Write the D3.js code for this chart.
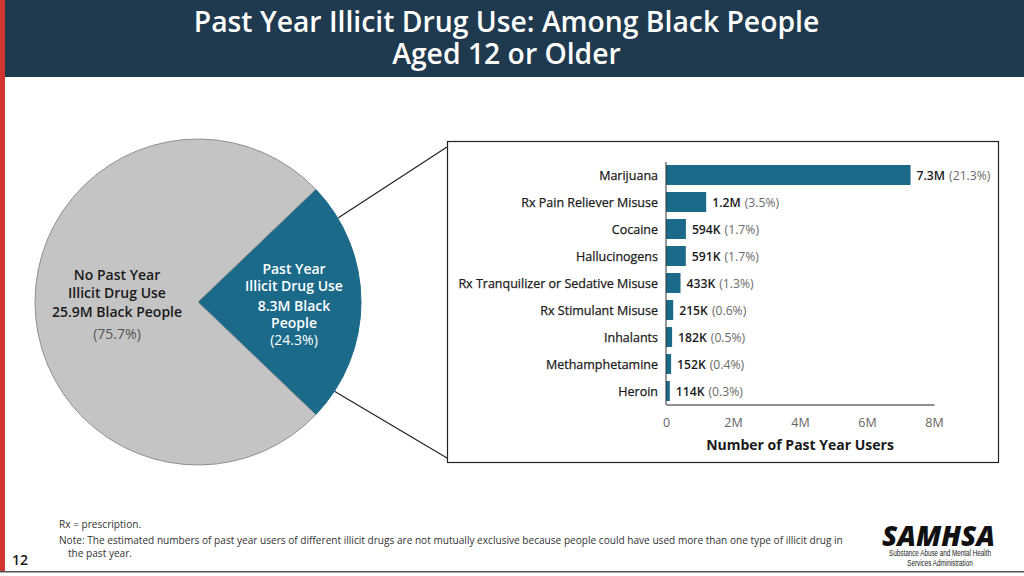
<!DOCTYPE html>
<html><head><meta charset="utf-8">
<script src="https://cdn.jsdelivr.net/npm/d3@7"></script>
<style>html,body{margin:0;padding:0;background:#fff}svg{display:block}text{font-family:"Open Sans","Noto Sans",sans-serif}</style>
</head><body><svg id="c" width="1024" height="576"></svg>
<script>
const titleLines=["Past Year Illicit Drug Use: Among Black People","Aged 12 or Older"];
const pieLabels=["Past Year Illicit Drug Use","No Past Year Illicit Drug Use"];
const pieValues=[24.3,75.7];
const drugs=["Marijuana","Rx Pain Reliever Misuse","Cocaine","Hallucinogens","Rx Tranquilizer or Sedative Misuse","Rx Stimulant Misuse","Inhalants","Methamphetamine","Heroin"];
const users=[7300000,1200000,594000,591000,433000,215000,182000,152000,114000];
const userLabels=["7.3M","1.2M","594K","591K","433K","215K","182K","152K","114K"];
const pctLabels=["(21.3%)","(3.5%)","(1.7%)","(1.7%)","(1.3%)","(0.6%)","(0.5%)","(0.4%)","(0.3%)"];
const xTicks=[0,2e6,4e6,6e6,8e6];
const xTickLabels=["0","2M","4M","6M","8M"];
const notes=["Rx = prescription.","Note: The estimated numbers of past year users of different illicit drugs are not mutually exclusive because people could have used more than one type of illicit drug in","the past year."];

const svg=d3.select("#c");
const TEAL="#1b6a89",GREY="#c4c4c4",DARK="#1a1a1a",MUTED="#595959";
svg.append("rect").attr("x",0).attr("y",0).attr("width",1024).attr("height",576).attr("fill","#fff");
svg.append("rect").attr("x",0).attr("y",0).attr("width",5).attr("height",571).attr("fill","#d03530");
svg.append("rect").attr("x",5).attr("y",0).attr("width",1019).attr("height",77).attr("fill","#1f3a4f");
svg.append("rect").attr("x",0).attr("y",571).attr("width",1024).attr("height",1.5).attr("fill","#555");
svg.selectAll(".ttl").data(titleLines).join("text").attr("x",506.5).attr("y",(d,i)=>32+i*32)
 .attr("text-anchor","middle").attr("fill","#fff").attr("font-size",28.3).attr("font-weight",600).text(d=>d);

// connector lines
const cx=198,cy=302,r=163;
[[338,218,447,147],[334,391,447,458]].forEach(p=>svg.append("line").attr("x1",p[0]).attr("y1",p[1]).attr("x2",p[2]).attr("y2",p[3]).attr("stroke","#222").attr("stroke-width",1.2));

// pie
const half=pieValues[0]/100*Math.PI; // half sweep of highlighted slice
const pie=d3.pie().sort(null).startAngle(Math.PI/2-half).endAngle(Math.PI/2-half+2*Math.PI);
const arc=d3.arc().innerRadius(0).outerRadius(r);
const g=svg.append("g").attr("transform",`translate(${cx},${cy})`);
g.selectAll("path").data(pie(pieValues)).join("path").attr("d",arc)
 .attr("fill",(d,i)=>i?GREY:TEAL).attr("stroke",(d,i)=>i?"#8f8f8f":TEAL).attr("stroke-width",1);

function block(x,lines){lines.forEach(l=>svg.append("text").attr("x",x).attr("y",l[1]).attr("text-anchor","middle")
 .attr("fill",l[2]).attr("font-size",14).attr("font-weight",l[3]).text(l[0]));}
block(117,[["No Past Year",280,DARK,600],["Illicit Drug Use",298,DARK,600],["25.9M Black People",317,DARK,600],["(75.7%)",339,"#555",400]]);
block(294,[["Past Year",274,"#fff",600],["Illicit Drug Use",291,"#fff",600],["8.3M Black",311,"#fff",600],["People",328,"#fff",600],["(24.3%)",345,"#fff",400]]);

// bar panel
svg.append("rect").attr("x",447.5).attr("y",141.5).attr("width",551).attr("height",321).attr("fill","#fff").attr("stroke","#222").attr("stroke-width",1.2);
const x=d3.scaleLinear().domain([0,8e6]).range([666,934]);
const y=d3.scaleBand().domain(drugs).range([161.5,404.5]).paddingInner(0.26).paddingOuter(0.13);
svg.selectAll(".bar").data(drugs).join("rect").attr("x",x(0)).attr("y",d=>y(d)).attr("height",y.bandwidth())
 .attr("width",(d,i)=>x(users[i])-x(0)).attr("fill",TEAL);
svg.selectAll(".cat").data(drugs).join("text").attr("x",658).attr("y",d=>y(d)+y.bandwidth()/2+4.6).attr("text-anchor","end")
 .attr("fill",DARK).attr("stroke",DARK).attr("stroke-width",0.25).attr("font-size",12.5).text(d=>d);
const vals=svg.selectAll(".val").data(drugs).join("text").attr("x",(d,i)=>x(users[i])+6).attr("y",d=>y(d)+y.bandwidth()/2+5.4)
 .attr("font-size",12.2);
vals.append("tspan").attr("fill",DARK).attr("font-weight",600).text((d,i)=>userLabels[i]);
vals.append("tspan").attr("fill","#6a6a6a").attr("dx",4).text((d,i)=>pctLabels[i]);
const axis=d3.axisBottom(x).tickValues(xTicks).tickFormat((d,i)=>xTickLabels[i]).tickSize(0).tickPadding(14);
const ag=svg.append("g").attr("transform","translate(0,404.5)").call(axis);
ag.select(".domain").attr("stroke","#222").attr("stroke-width",1);
ag.selectAll("text").attr("fill","#666").attr("font-size",12.5).style("font-family",'"Open Sans"');
svg.append("line").attr("x1",666).attr("x2",666).attr("y1",162).attr("y2",405).attr("stroke","#333").attr("stroke-width",1);
svg.append("text").attr("x",800).attr("y",450).attr("text-anchor","middle").attr("fill",DARK).attr("font-size",14).attr("font-weight",700).text("Number of Past Year Users");

// footer
svg.selectAll(".nt").data(notes).join("text").attr("x",(d,i)=>i==2?68:59).attr("y",(d,i)=>[528,544,557][i])
 .attr("fill","#333").attr("font-size",10.1).text(d=>d);
svg.append("text").attr("x",12).attr("y",565).attr("fill",DARK).attr("font-size",14).attr("font-weight",600).text("12");
svg.append("text").attr("x",882).attr("y",546).attr("fill","#111").attr("font-size",29).attr("font-weight",800).attr("font-style","italic").attr("textLength",113).attr("lengthAdjust","spacingAndGlyphs").text("SAMHSA");
[["Substance Abuse and Mental Health",556],["Services Administration",565.5]].forEach(l=>svg.append("text").attr("transform",`translate(940,${l[1]}) scale(0.77,1)`).attr("text-anchor","middle").attr("fill","#222").attr("font-size",8.2).style("font-family",'"Liberation Sans"').text(l[0]));
</script></body></html>
